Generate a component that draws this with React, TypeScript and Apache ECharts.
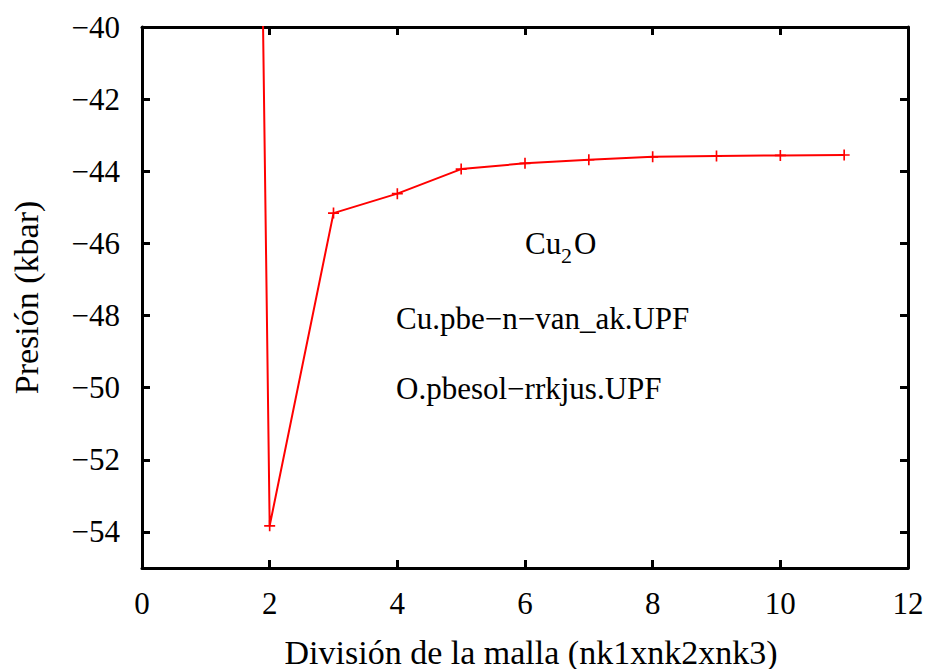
import React, { useEffect, useRef } from "react";
import * as echarts from "echarts";

const divisions = [1, 2, 3, 4, 5, 6, 7, 8, 9, 10, 11];
const pressure = [80, -53.83, -45.16, -44.62, -43.94, -43.78, -43.68, -43.6, -43.58, -43.56, -43.55];
const yTicks = [-54, -52, -50, -48, -46, -44, -42, -40];
const xTitle = "División de la malla (nk1xnk2xnk3)";
const yTitle = "Presión (kbar)";
const noteLines = ["Cu.pbe−n−van_ak.UPF", "O.pbesol−rrkjus.UPF"];

const FONT = "Liberation Serif";
const FS = 31;
const TFS = 34;

export default function App() {
  const ref = useRef<HTMLDivElement>(null);
  useEffect(() => {
    if (!ref.current) return;
    const chart = echarts.init(ref.current, null, { renderer: "svg" });
    const axisLine = { show: true, onZero: false, lineStyle: { color: "#000", width: 3 } };
    const tick = { show: true, inside: true, length: 8, lineStyle: { color: "#000", width: 3 } };
    const minus = (v: number) => String(v).replace("-", "−");
    chart.setOption({
      animation: false,
      backgroundColor: "#fff",
      textStyle: { fontFamily: FONT },
      grid: { left: 142, top: 27, right: 25, bottom: 101, containLabel: false, outerBoundsMode: "none" },
      xAxis: [
        {
          type: "value", min: 0, max: 12, interval: 2, position: "bottom",
          axisLine, axisTick: tick, splitLine: { show: false },
          axisLabel: { color: "#000", fontFamily: FONT, fontSize: FS, margin: 20 },
          name: xTitle, nameLocation: "middle", nameGap: 67,
          nameTextStyle: { color: "#000", fontFamily: FONT, fontSize: TFS, padding: [0, 0, 0, 12] },
        },
        {
          type: "value", min: 0, max: 12, interval: 2, position: "top",
          axisLine, axisTick: tick, splitLine: { show: false }, axisLabel: { show: false },
        },
      ],
      yAxis: [
        {
          type: "value", min: -55, max: -40, position: "left",
          axisLine, axisTick: { ...tick, customValues: yTicks }, splitLine: { show: false },
          axisLabel: {
            customValues: yTicks, color: "#000", fontFamily: FONT, fontSize: FS, margin: 22,
            formatter: (v: number) => minus(v),
          },
          name: yTitle, nameLocation: "middle", nameGap: 99,
          nameTextStyle: { color: "#000", fontFamily: FONT, fontSize: TFS },
        },
        {
          type: "value", min: -55, max: -40, position: "right",
          axisLine, axisTick: { ...tick, customValues: yTicks }, splitLine: { show: false },
          axisLabel: { show: false },
        },
      ],
      series: [
        {
          type: "line",
          data: divisions.map((d, i) => [d, pressure[i]]),
          clip: true,
          symbol: "path://M4.25,0h1.5v4.25h4.25v1.5h-4.25v4.25h-1.5v-4.25h-4.25v-1.5h4.25z",
          symbolSize: 11,
          showAllSymbol: true,
          itemStyle: { color: "#ff0000" },
          lineStyle: { color: "#ff0000", width: 2 },
        },
      ],
      graphic: [
        { type: "text", x: 525, y: 243, style: { text: "Cu", fontFamily: FONT, fontSize: FS, fill: "#000", verticalAlign: "middle", align: "left" } },
        { type: "text", x: 561, y: 255, style: { text: "2", fontFamily: FONT, fontSize: 22, fill: "#000", verticalAlign: "middle", align: "left" } },
        { type: "text", x: 574, y: 243, style: { text: "O", fontFamily: FONT, fontSize: FS, fill: "#000", verticalAlign: "middle", align: "left" } },
        { type: "text", x: 396, y: 318, style: { text: noteLines[0], fontFamily: FONT, fontSize: FS, fill: "#000", verticalAlign: "middle", align: "left" } },
        { type: "text", x: 396, y: 388, style: { text: noteLines[1], fontFamily: FONT, fontSize: FS, fill: "#000", verticalAlign: "middle", align: "left" } },
      ],
    });
    return () => chart.dispose();
  }, []);
  return <div ref={ref} style={{ width: 933, height: 669, position: "absolute", left: 0, top: 0 }} />;
}
